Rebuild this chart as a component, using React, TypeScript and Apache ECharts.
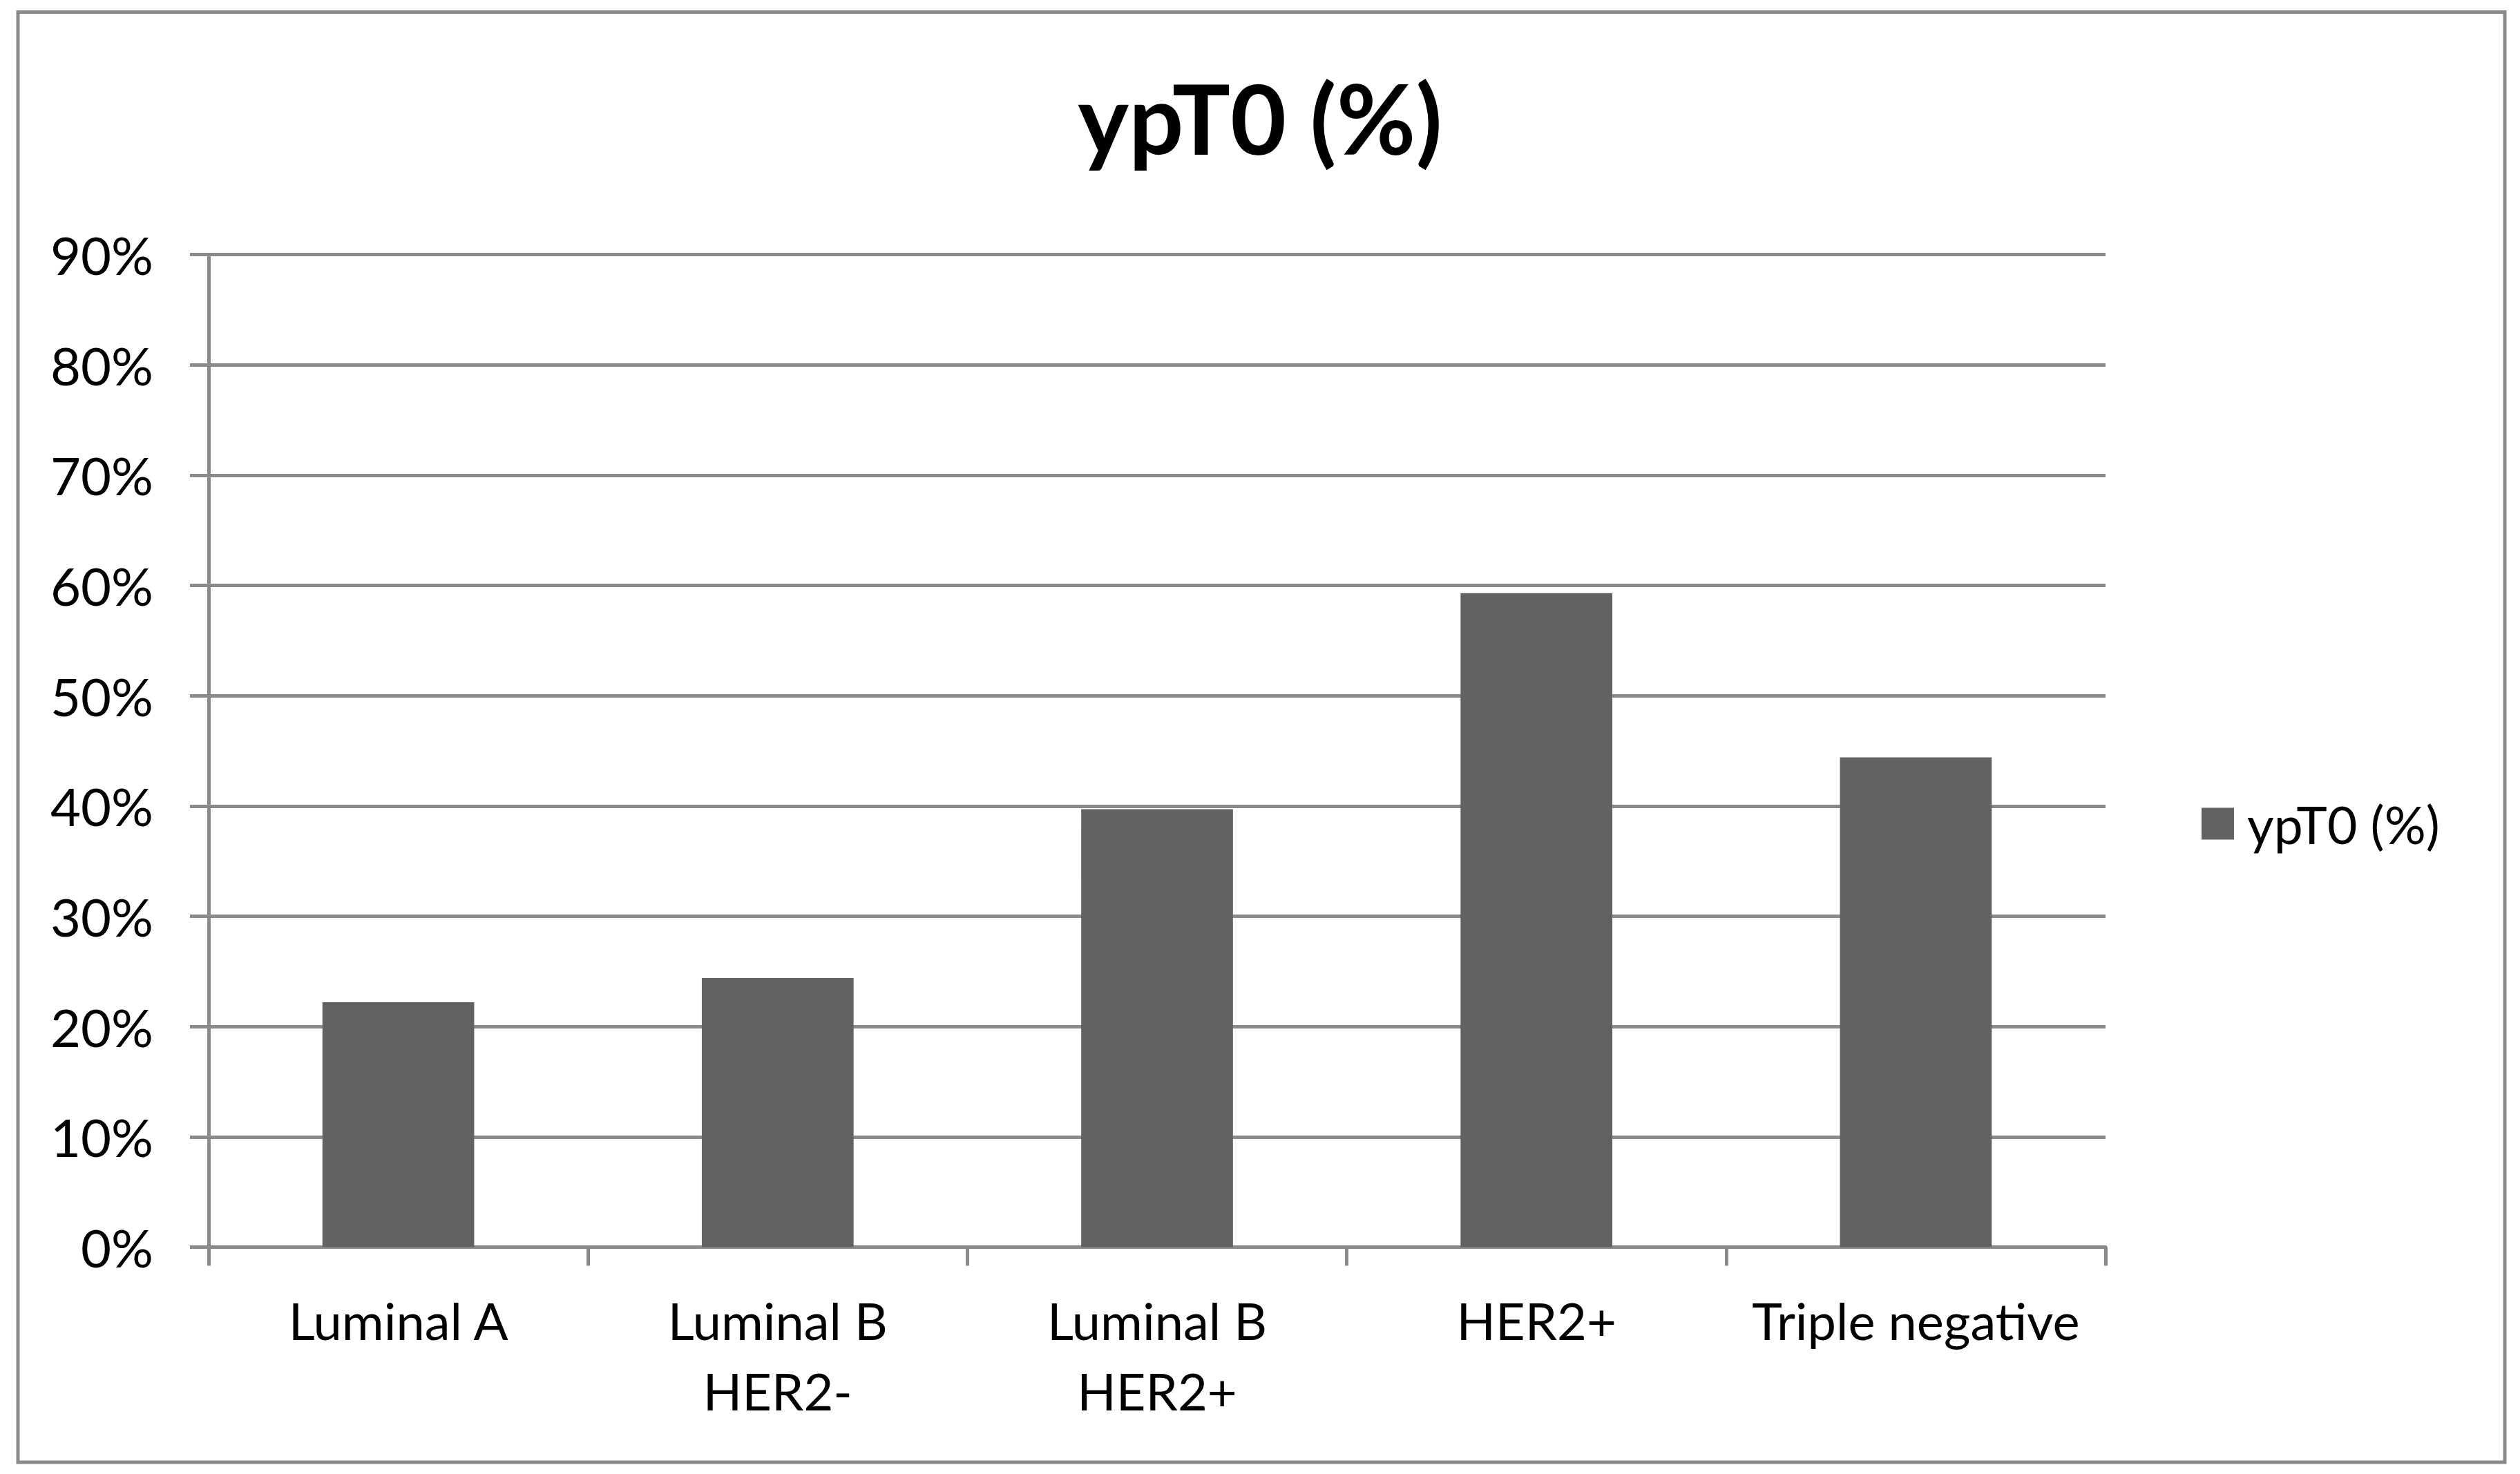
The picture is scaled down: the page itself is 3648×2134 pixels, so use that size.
import React, { useEffect, useRef } from "react";
import * as echarts from "echarts";

const categories = ["Luminal A", "Luminal B\nHER2-", "Luminal B\nHER2+", "HER2+", "Triple negative"];
const seriesName = "ypT0 (%)";
const values = [22.2, 24.4, 39.7, 59.3, 44.4];
const yMax = 90;
const yInterval = 10;

const W = 3648;
const H = 2134;
const FONT = "Lato";
const GRID_COLOR = "#8a8a8a";
const BAR_COLOR = "#626262";

export default function App() {
  const ref = useRef<HTMLDivElement>(null);
  useEffect(() => {
    document.body.style.margin = "0";
    if (!ref.current) return;
    const chart = echarts.init(ref.current, null, { renderer: "svg", width: W, height: H });
    chart.setOption({
      animation: false,
      backgroundColor: "#ffffff",
      title: {
        text: "ypT0 (%)",
        left: "center",
        top: 95,
        textStyle: { fontFamily: FONT, fontWeight: "bold", fontSize: 140, color: "#000" },
      },
      legend: {
        left: 3182,
        top: 1150,
        orient: "vertical",
        icon: "rect",
        itemWidth: 47,
        itemHeight: 46,
        textStyle: { fontFamily: FONT, fontSize: 75, color: "#000", padding: [0, 0, 0, 14], lineHeight: 46 },
        data: [seriesName],
      },
      grid: { left: 302, top: 368.5, right: W - 3048, bottom: H - 1805.5, containLabel: false },
      xAxis: {
        type: "category",
        data: categories,
        axisLine: { show: true, lineStyle: { color: GRID_COLOR, width: 5 } },
        axisTick: { show: true, length: 27, lineStyle: { color: GRID_COLOR, width: 5 } },
        axisLabel: {
          interval: 0,
          margin: 55,
          fontFamily: FONT,
          fontSize: 74,
          lineHeight: 102,
          color: "#000",
        },
      },
      yAxis: {
        type: "value",
        min: 0,
        max: yMax,
        interval: yInterval,
        axisLine: { show: true, lineStyle: { color: GRID_COLOR, width: 5 } },
        axisTick: { show: true, length: 27, lineStyle: { color: GRID_COLOR, width: 5 } },
        splitLine: { show: true, lineStyle: { color: GRID_COLOR, width: 5 } },
        axisLabel: {
          formatter: "{value}%",
          margin: 80,
          fontFamily: FONT,
          fontSize: 76,
          color: "#000",
        },
      },
      series: [
        {
          name: seriesName,
          type: "bar",
          data: values,
          barWidth: "40%",
          itemStyle: { color: BAR_COLOR },
        },
      ],
      graphic: [
        {
          type: "rect",
          shape: { x: 26, y: 17.5, width: 3600, height: 2099.5 },
          style: { fill: "none", stroke: GRID_COLOR, lineWidth: 5 },
          silent: true,
        },
      ],
    });
    return () => chart.dispose();
  }, []);
  return <div ref={ref} style={{ width: W, height: H }} />;
}
